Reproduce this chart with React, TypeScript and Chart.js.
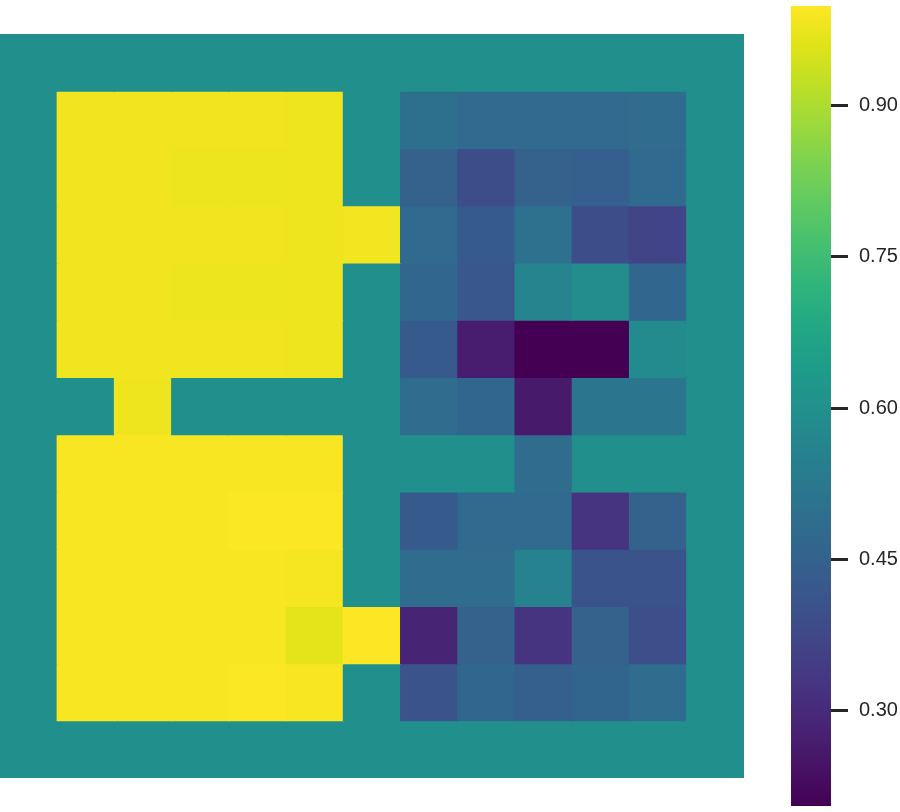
import React, { useEffect, useRef } from "react";
import { Chart, registerables } from "chart.js";

Chart.register(...registerables);

// Colour scale limits
const VMIN = 0.205;
const VMAX = 0.999;
const colorbarTicks = [0.3, 0.45, 0.6, 0.75, 0.9];

// Column labels (13 columns)
const columns = ["0", "1", "2", "3", "4", "5", "6", "7", "8", "9", "10", "11", "12"];

// Row values (13 rows, top to bottom)
const row00 = [0.6, 0.6, 0.6, 0.6, 0.6, 0.6, 0.6, 0.6, 0.6, 0.6, 0.6, 0.6, 0.6];
const row01 = [0.6, 0.983, 0.983, 0.983, 0.983, 0.981, 0.6, 0.497, 0.476, 0.476, 0.476, 0.483, 0.6];
const row02 = [0.6, 0.983, 0.983, 0.978, 0.978, 0.981, 0.6, 0.452, 0.388, 0.452, 0.444, 0.476, 0.6];
const row03 = [0.6, 0.983, 0.983, 0.983, 0.983, 0.981, 0.985, 0.476, 0.428, 0.499, 0.388, 0.366, 0.6];
const row04 = [0.6, 0.983, 0.983, 0.978, 0.978, 0.981, 0.6, 0.467, 0.42, 0.562, 0.586, 0.467, 0.6];
const row05 = [0.6, 0.983, 0.983, 0.983, 0.983, 0.981, 0.6, 0.428, 0.269, 0.205, 0.205, 0.58, 0.6];
const row06 = [0.6, 0.6, 0.979, 0.6, 0.6, 0.6, 0.6, 0.483, 0.467, 0.262, 0.515, 0.515, 0.6];
const row07 = [0.6, 0.993, 0.993, 0.993, 0.993, 0.993, 0.6, 0.6, 0.6, 0.483, 0.6, 0.6, 0.6];
const row08 = [0.6, 0.993, 0.993, 0.993, 0.996, 0.996, 0.6, 0.428, 0.476, 0.478, 0.324, 0.452, 0.6];
const row09 = [0.6, 0.993, 0.993, 0.993, 0.993, 0.99, 0.6, 0.483, 0.483, 0.555, 0.407, 0.407, 0.6];
const row10 = [0.6, 0.993, 0.993, 0.993, 0.993, 0.967, 0.999, 0.284, 0.452, 0.324, 0.452, 0.396, 0.6];
const row11 = [0.6, 0.993, 0.993, 0.993, 0.996, 0.993, 0.6, 0.411, 0.467, 0.444, 0.46, 0.483, 0.6];
const row12 = [0.6, 0.6, 0.6, 0.6, 0.6, 0.6, 0.6, 0.6, 0.6, 0.6, 0.6, 0.6, 0.6];

const rows = [row00, row01, row02, row03, row04, row05, row06, row07, row08, row09, row10, row11, row12];

const VIRIDIS = [
  "#440154", "#471365", "#482475", "#463480", "#414487", "#3b528b", "#355f8d",
  "#2f6c8e", "#2a788e", "#25848e", "#21918c", "#1e9c89", "#22a884", "#2fb47c",
  "#44bf70", "#5ec962", "#7ad151", "#9bd93c", "#bddf26", "#dfe318", "#fde725",
];

function hexToRgb(h: string) {
  const n = parseInt(h.slice(1), 16);
  return [(n >> 16) & 255, (n >> 8) & 255, n & 255];
}

function viridis(t: number) {
  const c = Math.max(0, Math.min(1, t));
  const pos = c * (VIRIDIS.length - 1);
  const i = Math.min(VIRIDIS.length - 2, Math.floor(pos));
  const f = pos - i;
  const a = hexToRgb(VIRIDIS[i]);
  const b = hexToRgb(VIRIDIS[i + 1]);
  const r = Math.round(a[0] + (b[0] - a[0]) * f);
  const g = Math.round(a[1] + (b[1] - a[1]) * f);
  const bl = Math.round(a[2] + (b[2] - a[2]) * f);
  return `rgb(${r},${g},${bl})`;
}

function colorFor(v: number) {
  return viridis((v - VMIN) / (VMAX - VMIN));
}

const FONT = "'Liberation Sans', Arial, sans-serif";

export default function App() {
  const heatRef = useRef<HTMLCanvasElement | null>(null);
  const barRef = useRef<HTMLCanvasElement | null>(null);

  useEffect(() => {
    const heat = new Chart(heatRef.current as HTMLCanvasElement, {
      type: "bar",
      data: {
        labels: columns,
        datasets: rows.map((row, ri) => ({
          label: `row ${ri}`,
          data: row.map(() => 1),
          backgroundColor: row.map((v) => colorFor(v)),
          borderWidth: 0,
          inflateAmount: 0.6,
          barPercentage: 1,
          categoryPercentage: 1,
        })),
      },
      options: {
        responsive: false,
        animation: false,
        layout: { padding: 0 },
        plugins: { legend: { display: false }, tooltip: { enabled: false } },
        scales: {
          x: { stacked: true, display: false },
          y: { stacked: true, display: false, min: 0, max: rows.length, reverse: true },
        },
      },
    });

    const bar = new Chart(barRef.current as HTMLCanvasElement, {
      type: "bar",
      data: {
        labels: ["cb"],
        datasets: [
          {
            data: [[VMIN, VMAX]] as any,
            borderWidth: 0,
            barPercentage: 1,
            categoryPercentage: 1,
            backgroundColor: (ctx: any) => {
              const area = ctx.chart.chartArea;
              if (!area) return "#21918c";
              const g = ctx.chart.ctx.createLinearGradient(0, area.bottom, 0, area.top);
              VIRIDIS.forEach((c, i) => g.addColorStop(i / (VIRIDIS.length - 1), c));
              return g;
            },
          },
        ],
      },
      options: {
        responsive: false,
        animation: false,
        layout: { padding: { top: 6, bottom: 6, left: 0, right: 0 } },
        plugins: { legend: { display: false }, tooltip: { enabled: false } },
        scales: {
          x: { display: false },
          y: {
            position: "right",
            min: VMIN,
            max: VMAX,
            afterBuildTicks: (scale: any) => {
              scale.ticks = colorbarTicks.map((v) => ({ value: v }));
            },
            afterFit: (scale: any) => {
              scale.width = 69;
              scale.paddingTop = 0;
              scale.paddingBottom = 0;
            },
            border: { display: false },
            grid: {
              drawOnChartArea: false,
              drawTicks: true,
              tickLength: 17,
              tickWidth: 3,
              tickColor: "#262626",
            },
            ticks: {
              padding: 11,
              color: "#262626",
              font: { family: FONT, size: 20 },
              callback: (v: any) => Number(v).toFixed(2),
            },
          },
        },
      },
    });

    return () => {
      heat.destroy();
      bar.destroy();
    };
  }, []);

  return (
    <div style={{ position: "absolute", left: 0, top: 0, width: 900, height: 812, background: "#fff" }}>
      <canvas
        ref={heatRef}
        width={744}
        height={744}
        style={{ position: "absolute", left: 0, top: 34, width: 744, height: 744 }}
      />
      <canvas
        ref={barRef}
        width={109}
        height={812}
        style={{ position: "absolute", left: 791, top: 0, width: 109, height: 812 }}
      />
    </div>
  );
}
